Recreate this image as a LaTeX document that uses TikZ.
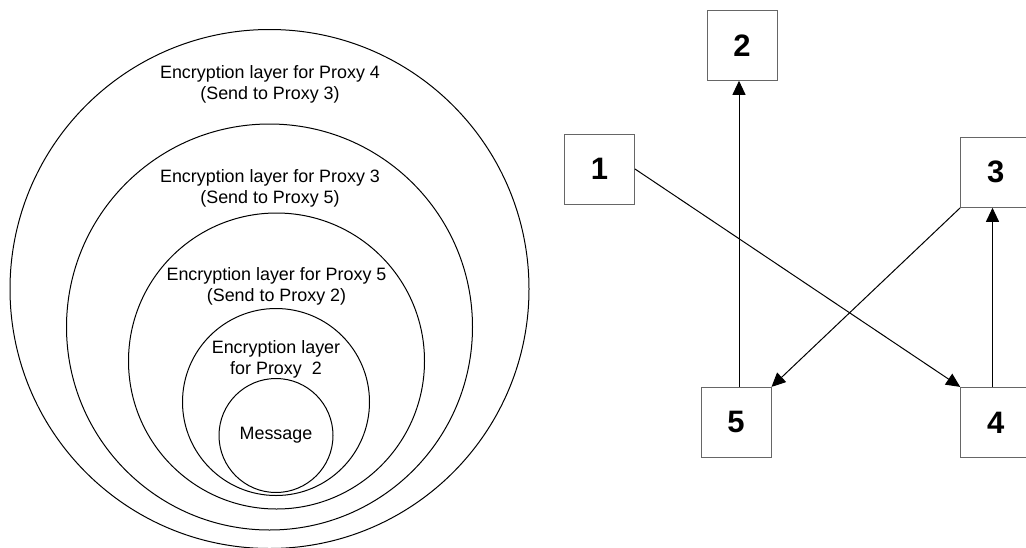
\documentclass[tikz,border=0pt]{standalone}
\usepackage{fontspec}
\setmainfont{Liberation Sans}
\usetikzlibrary{arrows.meta}

\begin{document}
\begin{tikzpicture}[x=1pt, y=-1pt, line width=1pt, >={Triangle[length=14pt,width=13pt]},
    layer/.style={align=center, font=\fontsize{17.9}{21}\selectfont},
    proxy/.style={draw=black!60, minimum width=70pt, minimum height=70pt, inner sep=0pt,
        font=\fontsize{31}{31}\selectfont\bfseries}]
        \useasboundingbox (0,0) rectangle (1026,547);

        % ==== ONION LAYERS ====
        \draw (269.5,289) circle (259.5pt);
        \draw (269.5,327) circle (203pt);
        \draw (276.5,361) circle (148pt);
        \draw (276,402) circle (93.5pt);
        \draw (276,435.5) circle (57pt);

        % ==== LAYER LABELS ====
        \node[layer] (lay4) at (270,84.5) {Encryption layer for Proxy 4\\(Send to Proxy 3)};
        \node[layer] (lay3) at (270,188.5) {Encryption layer for Proxy 3\\(Send to Proxy 5)};
        \node[layer] (lay5) at (276.5,286) {Encryption layer for Proxy 5\\(Send to Proxy 2)};
        \node[layer] (lay2) at (276,359) {Encryption layer\\for Proxy\ \ 2};
        \node[layer] (msg) at (276,435) {Message};

        % ==== PROXIES ====
        \node[proxy] (p1) at (599.5,169) {1};
        \node[proxy] (p2) at (742,45.3) {2};
        \node[proxy] (p3) at (995.7,172.3) {3};
        \node[proxy] (p4) at (995.7,422.4) {4};
        \node[proxy] (p5) at (736,422.4) {5};

        % === ROUTE ===
        \draw[->] (p1.east) -- (p4.north west);
        \draw[->] ([xshift=-3.2pt]p4.north) -- ([xshift=-3.2pt]p3.south);
        \draw[->] (p3.south west) -- (p5.north east);
        \draw[->] ([xshift=3pt]p5.north) -- ([xshift=-3pt]p2.south);

\end{tikzpicture}
\end{document}
